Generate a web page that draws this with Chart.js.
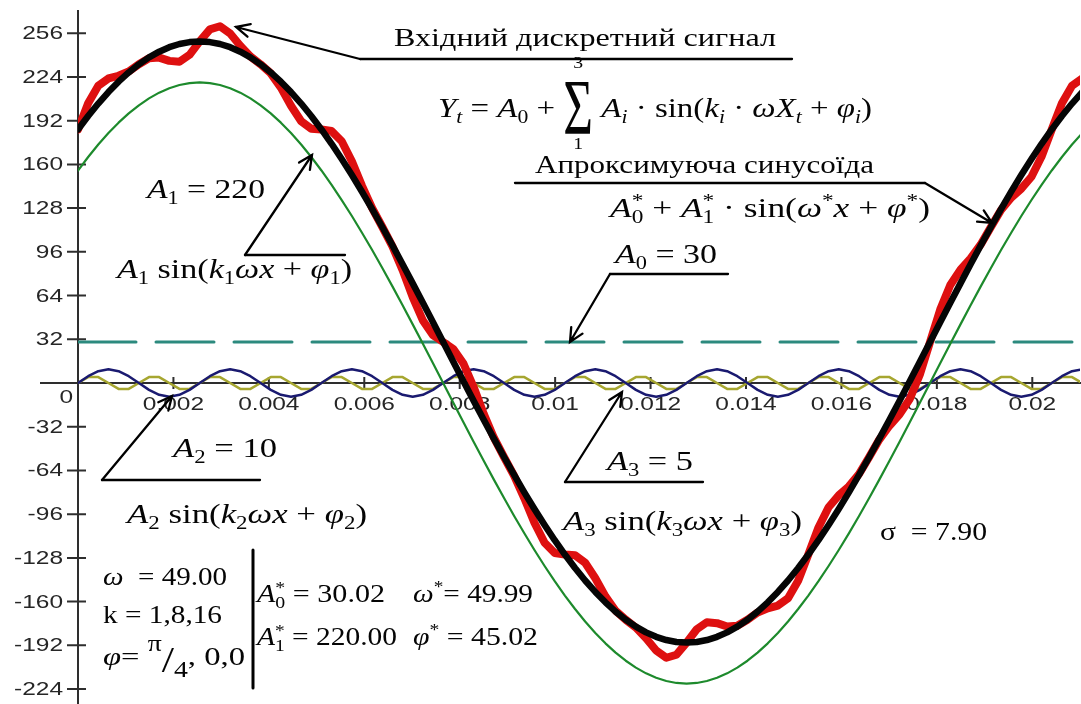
<!DOCTYPE html>
<html><head><meta charset="utf-8">
<script src="https://cdn.jsdelivr.net/npm/chart.js@4.4.1/dist/chart.umd.min.js"></script>
<style>
html,body{margin:0;padding:0;background:#fff}
#wrap{width:1081px;height:704px;position:relative}
</style></head><body>
<div id="wrap"><canvas id="c"></canvas></div>
<script>
/* DATA */
const xs=[0,0.000213,0.000425,0.000638,0.000850,0.001063,0.001276,0.001488,0.001701,0.001913,
0.002126,0.002338,0.002551,0.002764,0.002976,0.003189,0.003401,0.003614,0.003827,0.004039,
0.004252,0.004464,0.004677,0.004889,0.005102,0.005315,0.005527,0.005740,0.005952,0.006165,
0.006378,0.006590,0.006803,0.007015,0.007228,0.007440,0.007653,0.007866,0.008078,0.008291,
0.008503,0.008716,0.008929,0.009141,0.009354,0.009566,0.009779,0.009991,0.010204,0.010417,
0.010629,0.010842,0.011054,0.011267,0.011480,0.011692,0.011905,0.012117,0.012330,0.012542,
0.012755,0.012968,0.013180,0.013393,0.013605,0.013818,0.014031,0.014243,0.014456,0.014668,
0.014881,0.015093,0.015306,0.015519,0.015731,0.015944,0.016156,0.016369,0.016582,0.016794,
0.017007,0.017219,0.017432,0.017644,0.017857,0.018070,0.018282,0.018495,0.018707,0.018920,
0.019133,0.019345,0.019558,0.019770,0.019983,0.020195,0.020408,0.020621,0.020833,0.021046]

// input signal (red)
const red=[185.56,204.73,217.53,222.92,224.86,227.98,233.25,237.65,238.17,235.77,235.13,240.20,
250,258.86,261.11,255.77,246.83,238.99,233.25,226.64,216.20,202.92,191.55,186.07,
185.56,184.39,176.92,162.23,144.33,127.97,114.19,100.05,82.61,62.92,45.73,35.06,
30,24.94,14.27,-2.92,-22.61,-40.05,-54.19,-67.97,-84.33,-102.23,-116.92,-124.39,
-125.56,-126.07,-131.55,-142.92,-156.20,-166.64,-173.25,-178.99,-186.83,-195.77,-201.11,-198.86,
-190,-180.20,-175.13,-175.77,-178.17,-177.65,-173.25,-167.98,-164.86,-162.92,-157.53,-144.73,
-125.56,-105.73,-90.94,-82.23,-75.67,-66.63,-54.19,-41.39,-31.27,-22.92,-11.71,6.28,
30,53.72,71.71,82.92,91.27,101.39,114.19,126.63,135.67,142.23,150.94,165.73,
185.56,204.73,217.53,222.92]

// approximating sinusoid (black)
const black=[185.56,195.40,204.54,212.92,220.53,227.31,233.25,238.32,242.50,245.77,248.12,249.53,
250,249.53,248.12,245.77,242.50,238.32,233.25,227.31,220.53,212.92,204.54,195.40,
185.56,175.06,163.93,152.23,140.00,127.30,114.19,100.72,86.94,72.92,58.72,44.39,
30,15.61,1.28,-12.92,-26.94,-40.72,-54.19,-67.30,-80.00,-92.23,-103.93,-115.06,
-125.56,-135.40,-144.54,-152.92,-160.53,-167.31,-173.25,-178.32,-182.50,-185.77,-188.12,-189.53,
-190,-189.53,-188.12,-185.77,-182.50,-178.32,-173.25,-167.31,-160.53,-152.92,-144.54,-135.40,
-125.56,-115.06,-103.93,-92.23,-80.00,-67.30,-54.19,-40.72,-26.94,-12.92,1.28,15.61,
30,44.39,58.72,72.92,86.94,100.72,114.19,127.30,140.00,152.23,163.93,175.06,
185.56,195.40,204.54,212.92]

// A1 component (green)
const green=[155.56,165.40,174.54,182.92,190.53,197.31,203.25,208.32,212.50,215.77,218.12,219.53,
220,219.53,218.12,215.77,212.50,208.32,203.25,197.31,190.53,182.92,174.54,165.40,
155.56,145.06,133.93,122.23,110.00,97.30,84.19,70.72,56.94,42.92,28.72,14.39,
0,-14.39,-28.72,-42.92,-56.94,-70.72,-84.19,-97.30,-110.00,-122.23,-133.93,-145.06,
-155.56,-165.40,-174.54,-182.92,-190.53,-197.31,-203.25,-208.32,-212.50,-215.77,-218.12,-219.53,
-220,-219.53,-218.12,-215.77,-212.50,-208.32,-203.25,-197.31,-190.53,-182.92,-174.54,-165.40,
-155.56,-145.06,-133.93,-122.23,-110.00,-97.30,-84.19,-70.72,-56.94,-42.92,-28.72,-14.39,
0,14.39,28.72,42.92,56.94,70.72,84.19,97.30,110.00,122.23,133.93,145.06,
155.56,165.40,174.54,182.92]

// A2 component (blue)
const blue=[0,5,8.66,10,8.66,5,0,-5,-8.66,-10,-8.66,-5,
0,5,8.66,10,8.66,5,0,-5,-8.66,-10,-8.66,-5,
0,5,8.66,10,8.66,5,0,-5,-8.66,-10,-8.66,-5,
0,5,8.66,10,8.66,5,0,-5,-8.66,-10,-8.66,-5,
0,5,8.66,10,8.66,5,0,-5,-8.66,-10,-8.66,-5,
0,5,8.66,10,8.66,5,0,-5,-8.66,-10,-8.66,-5,
0,5,8.66,10,8.66,5,0,-5,-8.66,-10,-8.66,-5,
0,5,8.66,10,8.66,5,0,-5,-8.66,-10,-8.66,-5,
0,5,8.66,10]

// A3 component (yellow)
const yellow=[0,4.33,4.33,0,-4.33,-4.33,0,4.33,4.33,0,-4.33,-4.33,
0,4.33,4.33,0,-4.33,-4.33,0,4.33,4.33,0,-4.33,-4.33,
0,4.33,4.33,0,-4.33,-4.33,0,4.33,4.33,0,-4.33,-4.33,
0,4.33,4.33,0,-4.33,-4.33,0,4.33,4.33,0,-4.33,-4.33,
0,4.33,4.33,0,-4.33,-4.33,0,4.33,4.33,0,-4.33,-4.33,
0,4.33,4.33,0,-4.33,-4.33,0,4.33,4.33,0,-4.33,-4.33,
0,4.33,4.33,0,-4.33,-4.33,0,4.33,4.33,0,-4.33,-4.33,
0,4.33,4.33,0,-4.33,-4.33,0,4.33,4.33,0,-4.33,-4.33,
0,4.33,4.33,0]

// A0 level (dashed)
const a0X=[0,0.021]
const a0Y=[30,30]

const xTicks=[0.002,0.004,0.006,0.008,0.01,0.012,0.014,0.016,0.018,0.02]
const xTickLabels=["0.002","0.004","0.006","0.008","0.01","0.012","0.014","0.016","0.018","0.02"]
const yTicks=[256,224,192,160,128,96,64,32,0,-32,-64,-96,-128,-160,-192,-224]

/* TEXT HELPERS */
const SERIF='"Liberation Serif","Times New Roman",serif'
const SANS='"Liberation Sans",Arial,sans-serif'
const fnt=(s,it)=>(it?'italic ':'')+s.toFixed(1)+'px '+SERIF

function layout(ctx,parts,size){
let x=0,items=[]
parts.forEach(([t,k])=>{
if(k==='st'){
let s2=size*.66
let f=fnt(s2,false)
ctx.font=f
let w=Math.max(ctx.measureText(t[0]).width,ctx.measureText(t[1]).width)
items.push({t:t[0],f,x,dy:-size*.36})
items.push({t:t[1],f,x,dy:size*.24})
x+=w
return
}
if(k==='S'){
let f=fnt(size*1.55,false)
ctx.font=f
let w=ctx.measureText('Σ').width
items.push({t:'Σ',f,x,dy:size*.6,sy:1.85})
let fl=fnt(size*.6,false)
ctx.font=fl
items.push({t:t[0],f:fl,x:x+w/2-ctx.measureText(t[0]).width/2,dy:-size*1.8})
items.push({t:t[1],f:fl,x:x+w/2-ctx.measureText(t[1]).width/2,dy:size*1.2})
x+=w
return
}
let s=size,it=false,dy=0
if(k==='i')it=true
else if(k==='b'){s=size*.66;dy=size*.24}
else if(k==='bi'){s=size*.66;dy=size*.24;it=true}
else if(k==='p'){s=size*.66;dy=-size*.38}
else if(k==='hi'){s=size*.85;dy=-size*.55}
else if(k==='lo'){s=size*.85;dy=size*.48}
else if(k==='sl'){s=size*1.35;dy=size*.25}
let f=fnt(s,it)
ctx.font=f
items.push({t,f,x,dy})
x+=ctx.measureText(t).width
})
return {items,w:x}
}

function drawRich(ctx,a){
let L=layout(ctx,a.parts,a.size)
let sx=a.right?(a.right-a.left)/L.w:1
ctx.save()
ctx.translate(a.left,a.y)
ctx.scale(sx,1)
ctx.fillStyle='#050505'
ctx.textBaseline='alphabetic'
ctx.textAlign='left'
L.items.forEach(it=>{
ctx.font=it.f
if(it.sy){
ctx.save();ctx.translate(it.x,it.dy);ctx.scale(1,it.sy);ctx.fillText(it.t,0,0);ctx.restore()
}else ctx.fillText(it.t,it.x,it.dy)
})
ctx.restore()
}

function arrow(ctx,x1,y1,x2,y2){
let a=Math.atan2(y2-y1,x2-x1),L=15,h=0.45
ctx.beginPath()
ctx.moveTo(x1,y1);ctx.lineTo(x2,y2)
ctx.moveTo(x2-L*Math.cos(a-h),y2-L*Math.sin(a-h));ctx.lineTo(x2,y2)
ctx.lineTo(x2-L*Math.cos(a+h),y2-L*Math.sin(a+h))
ctx.stroke()
}
function seg(ctx,x1,y1,x2,y2){ctx.beginPath();ctx.moveTo(x1,y1);ctx.lineTo(x2,y2);ctx.stroke()}

/* ANNOTATIONS */
const notes=[
{left:394,right:776,y:46,size:26,parts:[['Вхідний дискретний сигнал','r']]},
{left:438,right:872,y:117,size:27,parts:[['Y','i'],['t','bi'],[' = ','r'],['A','i'],['0','b'],[' + ','r'],[['3','1'],'S'],[' ','r'],['A','i'],['i','bi'],[' · sin(','r'],['k','i'],['i','bi'],[' · ','r'],['ω','i'],['X','i'],['t','bi'],[' + ','r'],['φ','i'],['i','bi'],[')','r']]},
{left:535,right:874,y:173,size:26,parts:[['Апроксимуюча синусоїда','r']]},
{left:610,right:930,y:217,size:27,parts:[['A','i'],[['*','0'],'st'],[' + ','r'],['A','i'],[['*','1'],'st'],[' · sin(','r'],['ω','i'],['*','p'],['x','i'],[' + ','r'],['φ','i'],['*','p'],[')','r']]},
{left:147,right:265,y:198,size:27,parts:[['A','i'],['1','b'],[' = 220','r']]},
{left:117,right:352,y:278,size:27,parts:[['A','i'],['1','b'],[' sin(','r'],['k','i'],['1','b'],['ωx','i'],[' + ','r'],['φ','i'],['1','b'],[')','r']]},
{left:615,right:717,y:263,size:27,parts:[['A','i'],['0','b'],[' = 30','r']]},
{left:173,right:277,y:457,size:27,parts:[['A','i'],['2','b'],[' = 10','r']]},
{left:127,right:367,y:523,size:27,parts:[['A','i'],['2','b'],[' sin(','r'],['k','i'],['2','b'],['ωx','i'],[' + ','r'],['φ','i'],['2','b'],[')','r']]},
{left:607,right:693,y:470,size:27,parts:[['A','i'],['3','b'],[' = 5','r']]},
{left:563,right:802,y:530,size:27,parts:[['A','i'],['3','b'],[' sin(','r'],['k','i'],['3','b'],['ωx','i'],[' + ','r'],['φ','i'],['3','b'],[')','r']]},
{left:880,right:987,y:540,size:26,parts:[['σ  = 7.90','r']]},
{left:103,right:227,y:585,size:26,parts:[['ω','i'],['  = 49.00','r']]},
{left:103,right:222,y:623,size:26,parts:[['k = 1,8,16','r']]},
{left:103,right:245,y:665,size:26,parts:[['φ','i'],['= ','r'],['π','hi'],['/','sl'],['4','lo'],[', 0,0','r']]},
{left:257,right:385,y:602,size:26,parts:[['A','i'],[['*','0'],'st'],[' = 30.02','r']]},
{left:257,right:397,y:645,size:26,parts:[['A','i'],[['*','1'],'st'],[' = 220.00','r']]},
{left:413,right:533,y:602,size:26,parts:[['ω','i'],['*','p'],['= 49.99','r']]},
{left:413,right:538,y:645,size:26,parts:[['φ','i'],['*','p'],[' = 45.02','r']]}
]

/* PLUGINS */
const axesPlugin={
id:'axes',
beforeDatasetsDraw(chart){
const {ctx,scales:{x,y}}=chart
const x0=x.getPixelForValue(0),y0=y.getPixelForValue(0)
ctx.save()
ctx.strokeStyle='#2e2e2e'
ctx.lineWidth=2
ctx.beginPath()
ctx.moveTo(x0,chart.chartArea.top);ctx.lineTo(x0,chart.height)
ctx.moveTo(40,y0);ctx.lineTo(chart.width,y0)
yTicks.forEach(v=>{
if(v===0)return
let py=y.getPixelForValue(v)
ctx.moveTo(x0-11,py);ctx.lineTo(x0+8,py)
})
xTicks.forEach(v=>{
let px=x.getPixelForValue(v)
ctx.moveTo(px,y0-6);ctx.lineTo(px,y0+6)
})
ctx.stroke()
ctx.fillStyle='#262626'
ctx.font='18px '+SANS
const put=(t,px,py,al,bl)=>{
ctx.save();ctx.translate(px,py);ctx.scale(1.36,1)
ctx.textAlign=al;ctx.textBaseline=bl;ctx.fillText(t,0,0);ctx.restore()
}
yTicks.forEach(v=>{
if(v===0)put('0',x0-5,y0+20,'right','alphabetic')
else put(String(v),x0-15,y.getPixelForValue(v)+1,'right','middle')
})
xTicks.forEach((v,i)=>put(xTickLabels[i],x.getPixelForValue(v),y0+27,'center','alphabetic'))
ctx.restore()
},
afterDraw(chart){
const ctx=chart.ctx
ctx.save()
ctx.strokeStyle='#000'
ctx.lineWidth=2.3
ctx.lineCap='round'
seg(ctx,360,59,792,59);arrow(ctx,360,59,236,27)
seg(ctx,515,183,925,183);arrow(ctx,925,183,992,223)
seg(ctx,245,255,345,255);arrow(ctx,245,255,312,155)
seg(ctx,610,274,728,274);arrow(ctx,610,274,570,342)
seg(ctx,102,480,260,480);arrow(ctx,102,480,172,396)
seg(ctx,565,482,703,482);arrow(ctx,565,482,622,392)
ctx.lineWidth=3
seg(ctx,253,550,253,688)
notes.forEach(n=>drawRich(ctx,n))
ctx.restore()
}
}

/* CHART */
const mk=ys=>xs.map((x,i)=>({x,y:ys[i]}))

new Chart(document.getElementById('c'),{
type:'line',
data:{datasets:[
{data:mk(black),borderColor:'#050505',borderWidth:6.5,order:0},
{data:mk(red),borderColor:'#de1010',borderWidth:8,order:1},
{data:mk(green),borderColor:'#1d8a2c',borderWidth:2.2,order:2},
{data:mk(blue),borderColor:'#1a1a70',borderWidth:2.5,order:3},
{data:mk(yellow),borderColor:'#a6a630',borderWidth:2.5,order:4},
{data:a0X.map((x,i)=>({x,y:a0Y[i]})),borderColor:'#2c8a7e',borderWidth:3,borderDash:[58,20],order:5}
]},
options:{
responsive:true,
maintainAspectRatio:false,
animation:false,
layout:{padding:{left:78,right:1,top:10,bottom:4}},
elements:{point:{radius:0},line:{tension:0,borderJoinStyle:'round',borderCapStyle:'round'}},
plugins:{legend:{display:false},tooltip:{enabled:false}},
scales:{
x:{type:'linear',min:0,max:0.021,display:false},
y:{min:-232,max:273,display:false}
}
},
plugins:[axesPlugin]
})
</script>
</body></html>
